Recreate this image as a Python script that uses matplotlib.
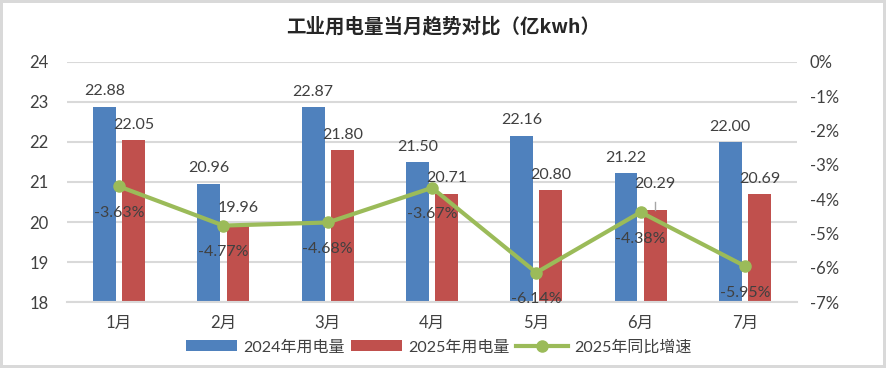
import matplotlib.pyplot as plt
import numpy as np
from matplotlib.ticker import FuncFormatter

plt.rcParams['font.family'] = ['Lato', 'Noto Sans CJK SC', 'DejaVu Sans']

# data
months = ['1月', '2月', '3月', '4月', '5月', '6月', '7月']
use_2024 = [22.88, 20.96, 22.87, 21.50, 22.16, 21.22, 22.00]
use_2025 = [22.05, 19.96, 21.80, 20.71, 20.80, 20.29, 20.69]
growth_2025 = [-3.63, -4.77, -4.68, -3.67, -6.14, -4.38, -5.95]

blue = '#4F81BD'
red = '#C0504D'
green = '#9BBB59'
txt = '#404040'

fig = plt.figure(figsize=(8.86, 3.68), dpi=100)
fig.patch.set_edgecolor('#d9d9d9')
fig.patch.set_linewidth(3)

ax = fig.add_axes([0.0756, 0.179, 0.824, 0.653])
x = np.arange(len(months))
w = 0.22
off = 0.14

ax.bar(x - off, use_2024, w, color=blue, label='2024年用电量', zorder=2)
ax.bar(x + off, use_2025, w, color=red, label='2025年用电量', zorder=2)
ax.set_ylim(18, 24)
ax.set_xlim(-0.5, len(months) - 0.5)
ax.set_yticks(range(18, 25))
ax.set_xticks(x)
ax.set_xticklabels(months)
ax.grid(axis='y', color='#d9d9d9', linewidth=1.5, zorder=0)
ax.set_axisbelow(True)
for s in ['top', 'left', 'right']:
    ax.spines[s].set_visible(False)
ax.spines['bottom'].set_color('#d9d9d9')
ax.spines['bottom'].set_linewidth(1.5)
ax.tick_params(length=0, labelsize=12, colors=txt, pad=9)
ax.tick_params(axis='y', pad=13)

for i, v in enumerate(use_2024):
    ax.annotate(f'{v:.2f}', (x[i] - off, v), xytext=(0, 6), textcoords='offset points',
                ha='center', va='bottom', fontsize=11.5, color=txt)
for i, v in enumerate(use_2025):
    dy = 14 if i == 5 else 6
    ax.annotate(f'{v:.2f}', (x[i] + off, v), xytext=(0, dy), textcoords='offset points',
                ha='center', va='bottom', fontsize=11.5, color=txt)
# leader line for the 6月 label
ax.plot([x[5] + off, x[5] + off], [use_2025[5] + 0.02, use_2025[5] + 0.22], color='#a6a6a6', lw=1, zorder=3)

ax2 = ax.twinx()
ax2.plot(x, growth_2025, color=green, lw=3, marker='o', ms=8, label='2025年同比增速', zorder=4)
ax2.set_ylim(-7, 0)
ax2.set_yticks(range(-7, 1))
ax2.yaxis.set_major_formatter(FuncFormatter(lambda v, p: f'{int(v)}%'))
for s in ax2.spines.values():
    s.set_visible(False)
ax2.tick_params(length=0, labelsize=12, colors=txt, pad=9)
for i, v in enumerate(growth_2025):
    ax2.annotate(f'{v:.2f}%', (x[i], v), xytext=(0, -14), textcoords='offset points',
                 ha='center', va='top', fontsize=11.5, color=txt)

fig.suptitle('工业用电量当月趋势对比（亿kwh）', y=0.955, fontsize=14, fontweight='bold', color='#262626',
             family=['Noto Sans CJK SC'])

h1, l1 = ax.get_legend_handles_labels()
h2, l2 = ax2.get_legend_handles_labels()
fig.legend(h1 + h2, l1 + l2, loc='center', bbox_to_anchor=(0.495, 0.057), ncol=3, frameon=False,
           fontsize=11.5, labelcolor=txt, handlelength=3.2, handletextpad=0.4, columnspacing=0.4)

fig.savefig('out.png', dpi=100)
